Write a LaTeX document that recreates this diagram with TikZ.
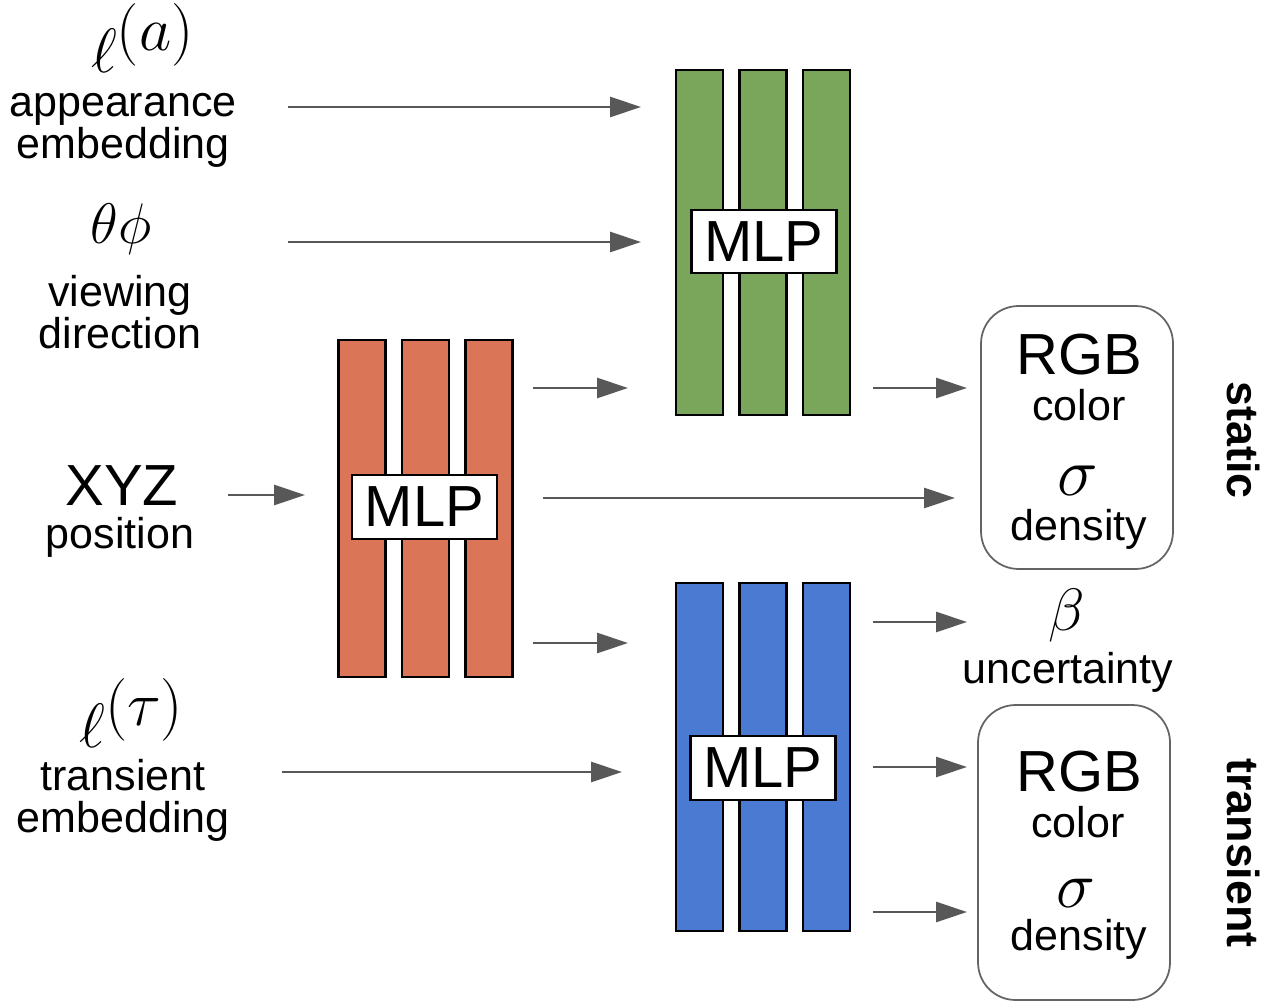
\documentclass[tikz,border=0pt]{standalone}
\usepackage{fontspec}
\setmainfont{Liberation Sans}
\usetikzlibrary{arrows.meta}
\definecolor{mlpgreen}{RGB}{121,166,90}
\definecolor{mlporange}{RGB}{218,117,88}
\definecolor{mlpblue}{RGB}{74,122,210}
\definecolor{arrowgray}{RGB}{88,88,88}
\definecolor{boxgray}{RGB}{100,100,100}
% math symbols set at 20.74pt and enlarged to the wanted size
\newcommand\symb[2]{\scalebox{#1}{$#2$}}

\begin{document}
\begin{tikzpicture}[x=0.02cm,y=-0.02cm,
  bar/.style={draw=black,line width=1.2pt,inner sep=0pt,outer sep=0pt,minimum width=0.94cm},
  gbar/.style={bar,fill=mlpgreen,minimum height=6.9cm},
  obar/.style={bar,fill=mlporange,minimum height=6.74cm},
  bbar/.style={bar,fill=mlpblue,minimum height=6.96cm},
  mlpbox/.style={draw=black,line width=1.2pt,fill=white,inner sep=0pt,
    minimum width=2.9cm,minimum height=1.27cm,font=\fontsize{33}{33}\selectfont},
  outbox/.style={draw=boxgray,line width=1pt,rounded corners=0.75cm,inner sep=0pt,
    minimum width=3.84cm},
  lbl/.style={font=\fontsize{24.5}{24}\selectfont,align=center,inner sep=0pt},
  big/.style={font=\fontsize{33}{33}\selectfont,inner sep=0pt},
  mth/.style={font=\fontsize{20.74}{22}\selectfont,inner sep=0pt},
  side/.style={font=\fontsize{25.5}{26}\selectfont\bfseries,rotate=-90,inner sep=0pt},
  arr/.style={draw=arrowgray,line width=1.6pt,
    -{Triangle[length=0.62cm,width=0.4cm,fill=arrowgray]}}]
\useasboundingbox (0,0) rectangle (1273,1003);

% inputs on the left
\node[mth] (la) at (143,38) {\symb{1.72}{\ell^{\textstyle(a)}}};
\node[lbl] (app) at (123,130) {appearance\\embedding};
\node[mth] (thph) at (121,229) {\symb{1.57}{\theta\phi}};
\node[lbl] (view) at (120,312) {viewing\\direction};
\node[big] (xyz) at (122,486) {XYZ};
\node[lbl] (pos) at (120,537) {position};
\node[mth] (lt) at (132,713) {\symb{1.72}{\ell^{\textstyle(\tau)}}};
\node[lbl] (temb) at (123,800) {transient\\embedding};

% shared MLP (orange)
\node[obar] (o1) at (362,508.5) {};
\node[obar] (o2) at (425.5,508.5) {};
\node[obar] (o3) at (489,508.5) {};
\node[mlpbox] (omlp) at (424.5,507) {MLP};

% static head (green)
\node[gbar] (g1) at (699.5,242.5) {};
\node[gbar] (g2) at (763,242.5) {};
\node[gbar] (g3) at (826.5,242.5) {};
\node[mlpbox] (gmlp) at (764,241.5) {MLP};

% transient head (blue)
\node[bbar] (b1) at (699.5,757) {};
\node[bbar] (b2) at (763,757) {};
\node[bbar] (b3) at (826.5,757) {};
\node[mlpbox] (bmlp) at (763,768) {MLP};

% static outputs
\node[outbox,minimum height=5.26cm] (sbox) at (1077,437.5) {};
\node[big] (srgb) at (1079,355) {RGB};
\node[lbl] (scol) at (1079,405) {color};
\node[mth] (ssig) at (1078,481) {\symb{1.88}{\sigma}};
\node[lbl] (sden) at (1079,529) {density};
\node[side] (stat) at (1243,440) {static};

% uncertainty
\node[mth] (beta) at (1067,616) {\symb{1.64}{\beta}};
\node[lbl] (unc) at (1068,672) {uncertainty};

% transient outputs
\node[outbox,minimum height=5.9cm] (tbox) at (1074,852.5) {};
\node[big] (trgb) at (1079,772) {RGB};
\node[lbl] (tcol) at (1078,822) {color};
\node[mth] (tsig) at (1076,893) {\symb{1.8}{\sigma}};
\node[lbl] (tden) at (1079,939) {density};
\node[side] (tran) at (1243,853) {transient};

% arrow end points
\coordinate (a1s) at (288,107);  \coordinate (a1e) at (641,107);
\coordinate (a2s) at (288,242);  \coordinate (a2e) at (641,242);
\coordinate (a3s) at (228,495);  \coordinate (a3e) at (305,495);
\coordinate (a4s) at (533,388);  \coordinate (a4e) at (628,388);
\coordinate (a5s) at (543,498);  \coordinate (a5e) at (955,498);
\coordinate (a6s) at (533,643);  \coordinate (a6e) at (628,643);
\coordinate (a7s) at (282,772);  \coordinate (a7e) at (622,772);
\coordinate (a8s) at (873,388);  \coordinate (a8e) at (967,388);
\coordinate (a9s) at (873,622);  \coordinate (a9e) at (967,622);
\coordinate (a10s) at (873,767); \coordinate (a10e) at (967,767);
\coordinate (a11s) at (873,912); \coordinate (a11e) at (967,912);

\foreach \i in {1,...,11} \draw[arr] (a\i s) -- (a\i e);
\end{tikzpicture}
\end{document}
